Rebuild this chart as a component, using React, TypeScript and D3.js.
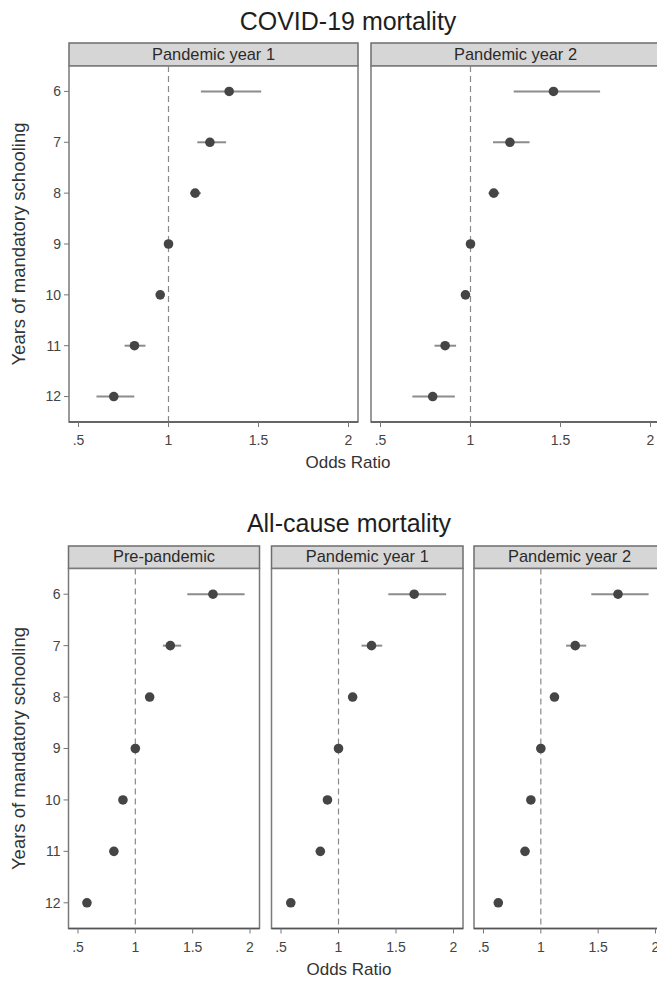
import React from "react";
import * as d3 from "d3";

const years = [6, 7, 8, 9, 10, 11, 12];
const xTicks = [0.5, 1, 1.5, 2];
const xTickLabels = [".5", "1", "1.5", "2"];

const covidY1Or = [1.337, 1.23, 1.148, 1.0, 0.954, 0.811, 0.696];
const covidY1Lo = [1.18, 1.16, 1.12, 1.0, 0.935, 0.756, 0.6];
const covidY1Hi = [1.515, 1.32, 1.18, 1.0, 0.972, 0.872, 0.81];

const covidY2Or = [1.461, 1.219, 1.129, 1.0, 0.972, 0.859, 0.79];
const covidY2Lo = [1.24, 1.125, 1.1, 1.0, 0.955, 0.8, 0.677];
const covidY2Hi = [1.72, 1.328, 1.16, 1.0, 0.99, 0.92, 0.913];

const allPreOr = [1.677, 1.305, 1.125, 1.0, 0.892, 0.813, 0.578];
const allPreLo = [1.453, 1.24, 1.1, 1.0, 0.875, 0.795, 0.56];
const allPreHi = [1.953, 1.4, 1.15, 1.0, 0.91, 0.83, 0.597];

const allY1Or = [1.658, 1.287, 1.123, 1.0, 0.904, 0.842, 0.585];
const allY1Lo = [1.433, 1.2, 1.1, 1.0, 0.885, 0.82, 0.565];
const allY1Hi = [1.936, 1.38, 1.15, 1.0, 0.925, 0.865, 0.605];

const allY2Or = [1.673, 1.3, 1.119, 1.0, 0.913, 0.862, 0.629];
const allY2Lo = [1.44, 1.22, 1.095, 1.0, 0.895, 0.84, 0.605];
const allY2Hi = [1.94, 1.396, 1.145, 1.0, 0.93, 0.885, 0.655];

const FONT = "'Liberation Sans', Arial, Helvetica, sans-serif";

type PanelProps = {
  left: number;
  right: number;
  stripTop: number;
  top: number;
  bottom: number;
  label: string;
  or: number[];
  lo: number[];
  hi: number[];
  showY: boolean;
};

function Panel({ left, right, stripTop, top, bottom, label, or, lo, hi, showY }: PanelProps) {
  const x = d3.scaleLinear().domain([0.5, 2]).range([left + 9.5, right - 9.5]);
  const y = d3.scaleLinear().domain([5.5, 12.5]).range([top, bottom]);
  return (
    <g>
      <rect x={left} y={stripTop} width={right - left} height={top - stripTop} fill="#d6d6d6" stroke="#6e6e6e" strokeWidth={1.5} />
      <text x={(left + right) / 2} y={top - 6.5} textAnchor="middle" fontSize={16.4} fill="#2a2a2a" fontFamily={FONT}>
        {label}
      </text>
      <rect x={left} y={top} width={right - left} height={bottom - top} fill="#ffffff" stroke="#7a7a7a" strokeWidth={1.5} />
      <line x1={x(1)} x2={x(1)} y1={top} y2={bottom} stroke="#8a8a8a" strokeWidth={1.2} strokeDasharray="6,4" />
      <line x1={left} x2={right} y1={bottom} y2={bottom} stroke="#555" strokeWidth={1.5} />
      {xTicks.map((t, i) => (
        <g key={"xt" + i}>
          <line x1={x(t)} x2={x(t)} y1={bottom} y2={bottom + 5} stroke="#777" strokeWidth={1} />
          <text x={x(t)} y={bottom + 23} textAnchor="middle" fontSize={14} fill="#444" fontFamily={FONT}>
            {xTickLabels[i]}
          </text>
        </g>
      ))}
      {showY &&
        years.map((v) => (
          <g key={"yt" + v}>
            <line x1={left - 5} x2={left} y1={y(v)} y2={y(v)} stroke="#777" strokeWidth={1} />
            <text x={left - 8} y={y(v)} dy="0.35em" textAnchor="end" fontSize={14} fill="#444" fontFamily={FONT}>
              {v}
            </text>
          </g>
        ))}
      {years.map((v, i) => (
        <line key={"ci" + v} x1={x(lo[i])} x2={x(hi[i])} y1={y(v)} y2={y(v)} stroke="#8c8c8c" strokeWidth={2} />
      ))}
      {years.map((v, i) => (
        <circle key={"pt" + v} cx={x(or[i])} cy={y(v)} r={4.8} fill="#454545" />
      ))}
    </g>
  );
}

export default function App() {
  const W = 657;
  const H = 981;
  return (
    <div style={{ position: "absolute", left: 0, top: 0, width: W, height: H }}>
      <svg width={W} height={H} style={{ display: "block", background: "#fff" }}>
        <text x={348} y={30} textAnchor="middle" fontSize={25} fill="#1e1e1e" fontFamily={FONT}>
          COVID-19 mortality
        </text>
        <Panel left={69} right={358} stripTop={43} top={66} bottom={422} label="Pandemic year 1" or={covidY1Or} lo={covidY1Lo} hi={covidY1Hi} showY={true} />
        <Panel left={371} right={660} stripTop={43} top={66} bottom={422} label="Pandemic year 2" or={covidY2Or} lo={covidY2Lo} hi={covidY2Hi} showY={false} />
        <text x={348} y={468} textAnchor="middle" fontSize={17} fill="#333" fontFamily={FONT}>
          Odds Ratio
        </text>
        <text transform={`translate(25,${(66 + 422) / 2}) rotate(-90)`} textAnchor="middle" fontSize={18.5} fill="#333" fontFamily={FONT}>
          Years of mandatory schooling
        </text>

        <text x={349} y={532} textAnchor="middle" fontSize={25} fill="#1e1e1e" fontFamily={FONT}>
          All-cause mortality
        </text>
        <Panel left={68.5} right={259.5} stripTop={546} top={568.5} bottom={928.5} label="Pre-pandemic" or={allPreOr} lo={allPreLo} hi={allPreHi} showY={true} />
        <Panel left={271.5} right={463} stripTop={546} top={568.5} bottom={928.5} label="Pandemic year 1" or={allY1Or} lo={allY1Lo} hi={allY1Hi} showY={false} />
        <Panel left={474} right={665} stripTop={546} top={568.5} bottom={928.5} label="Pandemic year 2" or={allY2Or} lo={allY2Lo} hi={allY2Hi} showY={false} />
        <text x={349} y={975} textAnchor="middle" fontSize={17} fill="#333" fontFamily={FONT}>
          Odds Ratio
        </text>
        <text transform={`translate(25,${(568.5 + 928.5) / 2}) rotate(-90)`} textAnchor="middle" fontSize={18.5} fill="#333" fontFamily={FONT}>
          Years of mandatory schooling
        </text>
      </svg>
    </div>
  );
}
